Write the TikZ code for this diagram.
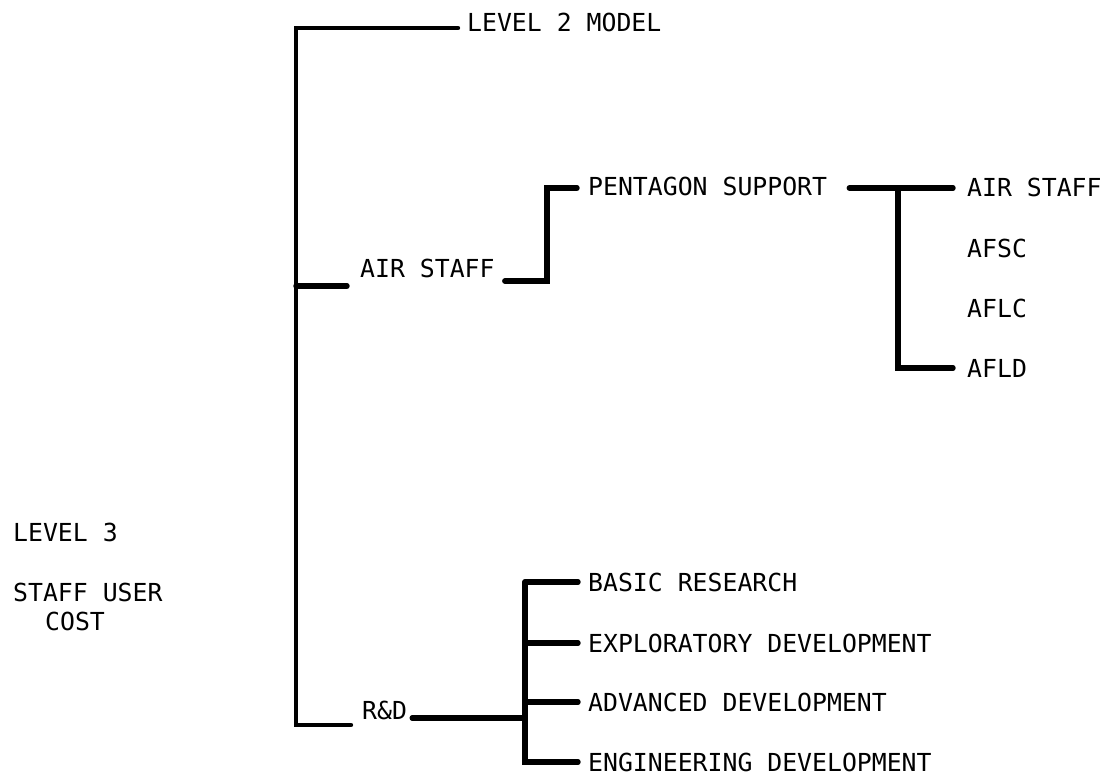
\documentclass[tikz,border=0pt]{standalone}
\usepackage{fontspec}
\newfontfamily\lettering{DejaVu Sans Mono}
\begin{document}
\begin{tikzpicture}[x=1pt,y=-1pt,
  lbl/.style={anchor=west,inner sep=0pt,font=\lettering\fontsize{24.8}{28}\selectfont,text height=18pt,text depth=0pt},
  wire/.style={line width=5.4pt,line cap=round,line join=miter},
  mainwire/.style={line width=4.4pt,line cap=round,line join=miter}]
\useasboundingbox (0,0) rectangle (1110,780);
% labels
\node[lbl] (l2) at (467,22) {LEVEL 2 MODEL};
\node[lbl] (as) at (360,268) {AIR STAFF};
\node[lbl] (ps) at (588,186) {PENTAGON SUPPORT};
\node[lbl] (ras) at (967,187) {AIR STAFF};
\node[lbl] (afsc) at (967,248) {AFSC};
\node[lbl] (aflc) at (967,308) {AFLC};
\node[lbl] (afld) at (967,368) {AFLD};
\node[lbl] (lv3) at (13,532) {LEVEL 3};
\node[lbl] (su) at (13,592) {STAFF USER};
\node[lbl] (cost) at (45,621) {COST};
\node[lbl] (rd) at (362,710) {R\&D};
\node[lbl] (br) at (588,582) {BASIC RESEARCH};
\node[lbl] (xd) at (588,643) {EXPLORATORY DEVELOPMENT};
\node[lbl] (ad) at (588,702) {ADVANCED DEVELOPMENT};
\node[lbl] (ed) at (588,762) {ENGINEERING DEVELOPMENT};
% junctions
\coordinate (mtop) at (296,28);
\coordinate (mair) at (296,286);
\coordinate (mrd) at (296,725);
\coordinate (j1b) at (547,281);
\coordinate (j1t) at (547,188);
\coordinate (j2t) at (898,188);
\coordinate (j2b) at (898,368);
\coordinate (j3) at (525,718);
\coordinate (j3t) at (525,582);
\coordinate (j3b) at (525,762);
% main spine
\draw[mainwire,shorten <=9pt,shorten >=11pt] (mtop -| l2.west) -- (mtop) -- (mrd) -- (mrd -| rd.west);
\draw[wire,shorten >=13pt] (mair) -- (mair -| as.west);
% air staff -> pentagon support
\draw[wire,shorten <=10pt,shorten >=11pt] (j1b -| as.east) -- (j1b) -- (j1t) -- (j1t -| ps.west);
% pentagon support -> offices
\draw[wire,shorten <=22pt,shorten >=14pt] (j2t -| ps.east) -- (j2t -| ras.west);
\draw[wire,shorten >=14pt] (j2t) -- (j2b) -- (j2b -| afld.west);
% R&D
\draw[wire,shorten <=5pt] (j3 -| rd.east) -- (j3);
\draw[wire,shorten >=10pt] (j3t) -- (j3b) -- (j3b -| ed.west);
\draw[wire,shorten >=10pt] (j3t) -- (j3t -| br.west);
\draw[wire,shorten >=10pt] (j3 |- xd.west) -- (xd.west);
\draw[wire,shorten >=10pt] (j3 |- ad.west) -- (ad.west);
\end{tikzpicture}
\end{document}
